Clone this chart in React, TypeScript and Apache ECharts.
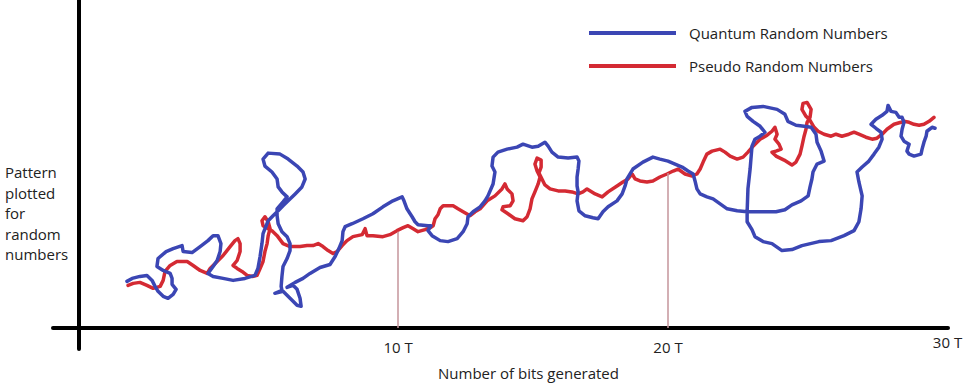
import React, { useEffect, useRef } from 'react';
import * as echarts from 'echarts';

const seriesNames = ['Quantum Random Numbers', 'Pseudo Random Numbers'];
const xTickValues = [10, 20, 30];
const xAxisTitle = 'Number of bits generated';
const yAxisTitleLines = ['Pattern', 'plotted', 'for', 'random', 'numbers'];

// [bits generated (T), pattern value]
const quantumRandom = [
  [-0.04, 4.7], [0.15, 5.0], [0.44, 5.2], [0.70, 5.3], [0.89, 4.8], [1.00, 4.2], [1.11, 3.7], [1.30, 3.2], [1.48, 3.0], [1.67, 3.4],
  [1.78, 3.9], [1.63, 4.4], [1.63, 5.0], [1.56, 5.5], [1.30, 5.8], [1.07, 6.2], [1.11, 7.0], [1.41, 7.7], [1.67, 8.0], [2.00, 8.3],
  [2.04, 7.7], [2.37, 7.6], [2.67, 8.2], [2.96, 8.8], [3.15, 9.3], [3.33, 9.3], [3.44, 8.5], [3.41, 7.7], [3.30, 6.8], [3.15, 6.2],
  [2.96, 5.5], [3.15, 5.2], [3.52, 5.0], [3.89, 4.8], [4.33, 5.0], [4.70, 5.3], [4.81, 6.0], [4.89, 7.2], [4.96, 8.5], [5.00, 9.5],
  [5.19, 10.8], [5.37, 11.3], [5.56, 11.8], [5.74, 12.3], [5.93, 12.8], [6.19, 13.5], [6.44, 14.2], [6.56, 15.0], [6.48, 15.7], [6.26, 16.3],
  [5.93, 17.0], [5.63, 17.5], [5.19, 17.6], [5.00, 17.0], [5.07, 16.3], [5.33, 15.7], [5.52, 15.0], [5.56, 14.2], [5.70, 13.7], [5.89, 13.2],
  [5.74, 12.7], [5.52, 12.0], [5.52, 11.3], [5.56, 10.5], [5.70, 9.7], [5.89, 9.2], [6.00, 8.5], [6.00, 7.8], [5.89, 7.0], [5.74, 6.2],
  [5.70, 5.2], [5.67, 4.2], [5.70, 3.8], [5.44, 3.5], [5.74, 3.7], [6.00, 3.0], [6.26, 2.3], [6.41, 2.2], [6.37, 3.0], [6.26, 3.9],
  [6.11, 4.3], [5.89, 4.1], [6.19, 4.6], [6.48, 5.0], [6.74, 5.5], [7.11, 6.1], [7.48, 6.4], [7.67, 7.2], [7.81, 8.0], [7.93, 8.8],
  [7.96, 9.7], [8.04, 10.2], [8.30, 10.5], [8.70, 11.0], [9.07, 11.5], [9.44, 12.2], [9.81, 12.8], [10.15, 13.2], [10.22, 12.8], [10.33, 12.0],
  [10.52, 11.2], [10.63, 10.7], [10.74, 10.4], [11.11, 10.3], [11.22, 10.3], [11.11, 9.8], [11.26, 9.3], [11.56, 8.8], [11.85, 8.7], [12.19, 9.0],
  [12.41, 9.7], [12.56, 10.5], [12.59, 11.2], [12.78, 11.7], [13.04, 12.2], [13.22, 12.8], [13.33, 13.3], [13.52, 14.5], [13.59, 15.7], [13.48, 16.3],
  [13.52, 17.2], [13.70, 17.7], [14.04, 18.0], [14.41, 18.2], [14.63, 18.5], [14.96, 18.2], [15.19, 18.3], [15.44, 18.7], [15.56, 18.3], [15.70, 17.7],
  [15.93, 17.2], [16.30, 17.1], [16.63, 17.2], [16.70, 16.8], [16.67, 16.0], [16.63, 15.2], [16.63, 14.3], [16.67, 13.7], [16.63, 12.8], [16.70, 11.8],
  [16.93, 11.3], [17.22, 11.1], [17.41, 11.0], [17.59, 11.7], [17.78, 12.2], [18.11, 12.8], [18.30, 13.5], [18.41, 14.3], [18.48, 15.0], [18.70, 16.0],
  [19.07, 16.7], [19.44, 17.2], [19.70, 17.0], [20.00, 16.8], [20.26, 16.5], [20.52, 16.2], [20.74, 15.8], [20.93, 15.5], [21.00, 14.8], [21.07, 14.0],
  [21.19, 13.5], [21.44, 13.2], [21.67, 13.0], [21.93, 12.5], [22.19, 12.0], [22.56, 11.8], [22.93, 11.7], [22.96, 14.0], [23.04, 16.0], [23.11, 18.3],
  [23.22, 19.0], [23.41, 19.3], [23.59, 19.7], [23.41, 20.3], [23.15, 20.8], [22.93, 21.3], [22.85, 21.8], [23.11, 22.2], [23.52, 22.3], [24.04, 22.0],
  [24.33, 21.5], [24.44, 20.8], [24.74, 20.4], [25.04, 20.3], [25.30, 20.2], [25.48, 19.5], [25.52, 18.7], [25.67, 17.8], [25.78, 16.8], [25.52, 16.5],
  [25.37, 15.7], [25.33, 15.0], [25.26, 14.2], [25.19, 13.3], [24.93, 12.8], [24.59, 12.4], [24.33, 11.9], [24.00, 11.7], [23.48, 11.7], [22.93, 11.7],
  [22.93, 10.7], [23.11, 9.9], [23.22, 9.2], [23.52, 8.7], [23.85, 8.5], [24.22, 7.8], [24.59, 7.9], [24.96, 8.3], [25.59, 8.7], [26.04, 8.8],
  [26.52, 9.3], [26.89, 9.8], [27.07, 10.7], [27.15, 12.0], [27.19, 13.3], [27.07, 14.7], [27.00, 15.7], [27.19, 16.2], [27.44, 16.8], [27.63, 17.5],
  [27.81, 18.2], [27.93, 19.0], [27.89, 19.7], [27.70, 20.1], [27.52, 20.5], [27.70, 21.0], [27.93, 21.4], [28.11, 21.8], [28.15, 22.4], [28.26, 21.8],
  [28.44, 21.7], [28.56, 21.2], [28.67, 21.2], [28.74, 20.7], [28.67, 20.0], [28.63, 19.3], [28.74, 18.8], [28.93, 18.5], [28.85, 17.8], [28.93, 17.5],
  [29.11, 17.3], [29.37, 17.5], [29.41, 18.0], [29.48, 18.7], [29.56, 19.3], [29.59, 19.8], [29.78, 20.2], [29.89, 20.1]
];

const pseudoRandom = [
  [0.00, 4.3], [0.19, 4.5], [0.44, 4.6], [0.70, 4.3], [0.93, 4.0], [1.19, 4.2], [1.30, 4.8], [1.37, 5.7], [1.56, 6.3], [1.81, 6.7],
  [2.19, 6.7], [2.41, 6.3], [2.67, 5.8], [2.93, 5.5], [3.04, 6.0], [3.30, 6.7], [3.52, 7.3], [3.78, 8.2], [3.96, 8.8], [4.07, 9.0],
  [4.15, 8.5], [4.15, 7.7], [4.04, 6.8], [3.89, 6.3], [4.04, 6.0], [4.22, 5.7], [4.41, 5.3], [4.63, 5.2], [4.78, 5.3], [4.89, 6.0],
  [5.00, 6.7], [5.07, 7.7], [5.15, 8.5], [5.19, 9.3], [5.26, 10.0], [5.19, 10.7], [5.07, 11.2], [4.96, 10.8], [5.00, 10.3], [5.19, 10.0],
  [5.33, 9.8], [5.52, 9.3], [5.74, 8.5], [6.00, 8.2], [6.37, 8.2], [6.63, 8.3], [6.85, 8.3], [7.04, 8.5], [7.22, 8.2], [7.41, 7.8],
  [7.59, 7.5], [7.74, 7.7], [7.93, 8.3], [8.11, 8.8], [8.33, 9.2], [8.67, 9.4], [8.78, 10.0], [8.85, 9.3], [9.07, 9.3], [9.44, 9.2],
  [9.70, 9.4], [9.96, 9.8], [10.19, 10.1], [10.37, 10.3], [10.56, 10.0], [10.74, 9.7], [11.00, 9.9], [11.19, 10.1], [11.30, 10.3], [11.37, 11.0],
  [11.48, 11.4], [11.56, 12.0], [11.67, 12.3], [11.85, 12.3], [12.04, 12.3], [12.22, 12.0], [12.41, 11.7], [12.67, 11.3], [12.85, 11.7], [13.04, 12.0],
  [13.30, 12.8], [13.59, 13.3], [13.85, 14.0], [13.96, 14.5], [14.04, 14.0], [14.22, 13.5], [14.26, 12.8], [14.15, 12.3], [13.89, 12.2], [13.85, 11.9],
  [14.07, 11.5], [14.33, 11.0], [14.63, 10.8], [14.78, 11.2], [14.89, 12.0], [14.96, 13.0], [15.07, 13.7], [15.19, 14.5], [15.26, 15.2], [15.15, 15.8],
  [15.07, 16.5], [15.15, 17.1], [15.30, 16.9], [15.30, 16.2], [15.22, 15.6], [15.33, 15.0], [15.44, 14.4], [15.63, 14.0], [15.93, 13.8], [16.19, 13.8],
  [16.44, 13.7], [16.67, 13.5], [16.85, 13.7], [17.00, 14.0], [17.30, 13.5], [17.56, 13.2], [17.78, 13.7], [18.11, 14.3], [18.33, 14.7], [18.52, 15.0],
  [18.67, 15.5], [18.78, 15.0], [18.96, 14.8], [19.22, 14.7], [19.44, 14.8], [19.70, 15.2], [19.96, 15.5], [20.19, 15.8], [20.37, 16.0], [20.63, 15.5],
  [20.89, 15.3], [21.07, 15.5], [21.19, 16.0], [21.30, 16.7], [21.44, 17.5], [21.63, 17.8], [21.93, 18.0], [22.11, 17.7], [22.30, 17.3], [22.56, 17.0],
  [22.78, 17.2], [22.96, 17.7], [23.15, 18.3], [23.41, 19.0], [23.67, 19.4], [23.85, 19.8], [23.96, 20.2], [24.04, 19.5], [23.96, 19.0], [24.11, 18.5],
  [24.19, 18.0], [24.00, 17.8], [23.85, 17.7], [24.00, 17.3], [24.30, 16.9], [24.59, 16.4], [24.74, 16.7], [24.89, 17.5], [24.96, 18.3], [25.04, 19.3],
  [25.11, 20.0], [25.15, 20.7], [25.26, 21.2], [25.30, 22.0], [25.15, 22.7], [25.00, 22.6], [24.96, 22.0], [25.11, 21.3], [25.26, 20.9], [25.41, 20.2],
  [25.56, 19.8], [25.78, 19.5], [26.04, 19.3], [26.22, 19.5], [26.44, 19.3], [26.70, 19.5], [26.89, 19.7], [27.07, 19.5], [27.33, 19.2], [27.56, 19.0],
  [27.74, 19.1], [27.93, 19.5], [28.11, 20.0], [28.37, 20.5], [28.63, 20.7], [28.74, 20.8], [28.93, 20.7], [29.11, 20.5], [29.30, 20.4], [29.48, 20.5],
  [29.67, 20.8], [29.85, 21.2]
];

// vertical guide lines: [x (T), pseudo curve value at x]
const guideLines = [
  [10, 9.7],
  [20, 15.6]
];

const BLUE = '#3b46b4';
const RED = '#d42a33';
const TEXT = '#222222';
const FONT = "'Open Sans', sans-serif";

export default function App() {
  const ref = useRef<HTMLDivElement>(null);

  useEffect(() => {
    if (!ref.current) return;
    const chart = echarts.init(ref.current, null, { renderer: 'svg' });
    chart.setOption({
      animation: false,
      backgroundColor: '#ffffff',
      textStyle: { fontFamily: FONT },
      grid: { left: 53, right: 21, top: 0, bottom: 34, containLabel: false },
      legend: {
        orient: 'vertical',
        left: 589,
        top: 23,
        padding: 0,
        icon: 'rect',
        itemWidth: 87,
        itemHeight: 4,
        itemGap: 13,
        data: seriesNames,
        selectedMode: false,
        textStyle: { fontSize: 15, color: TEXT, fontFamily: FONT, lineHeight: 20, padding: [0, 0, 0, 8] }
      },
      xAxis: {
        type: 'value',
        min: -2.78,
        max: 30.37,
        offset: -21,
        axisLine: { show: true, onZero: false, lineStyle: { color: '#000', width: 4 } },
        axisTick: { show: false },
        splitLine: { show: false },
        axisLabel: {
          customValues: xTickValues,
          margin: 4,
          formatter: (v: number) => (v === 30 ? `{end|${v} T}` : `{n|${v} T}`),
          rich: {
            n: { fontSize: 15, color: TEXT, fontFamily: FONT, padding: [7, 0, 0, 0] },
            end: { fontSize: 15, color: TEXT, fontFamily: FONT, padding: [2, 0, 0, 19] }
          }
        },
        name: xAxisTitle,
        nameLocation: 'middle',
        nameGap: 37,
        nameTextStyle: { fontSize: 15, color: TEXT, fontFamily: FONT, padding: [0, 0, 0, 56] }
      },
      yAxis: {
        type: 'value',
        min: -2.1,
        max: 33,
        offset: -26,
        axisLine: { show: true, onZero: false, lineStyle: { color: '#000', width: 4 } },
        axisTick: { show: false },
        axisLabel: { show: false },
        splitLine: { show: false }
      },
      graphic: [
        {
          type: 'text',
          left: 5,
          top: 162,
          style: {
            text: yAxisTitleLines.join('\n'),
            font: `15px ${FONT}`,
            lineHeight: 20.5,
            fill: TEXT
          }
        }
      ],
      series: [
        {
          name: seriesNames[1],
          type: 'line',
          data: pseudoRandom,
          showSymbol: false,
          symbol: 'none',
          z: 2,
          lineStyle: { color: RED, width: 3.5, cap: 'round', join: 'round' },
          itemStyle: { color: RED },
          emphasis: { disabled: true },
          markLine: {
            silent: true,
            symbol: ['none', 'none'],
            label: { show: false },
            lineStyle: { color: '#c4959b', width: 1.5, type: 'solid' },
            data: guideLines.map(([x, y]) => [{ coord: [x, 0] }, { coord: [x, y] }])
          }
        },
        {
          name: seriesNames[0],
          type: 'line',
          data: quantumRandom,
          showSymbol: false,
          symbol: 'none',
          z: 3,
          lineStyle: { color: BLUE, width: 3.5, cap: 'round', join: 'round' },
          itemStyle: { color: BLUE },
          emphasis: { disabled: true }
        }
      ]
    });
    return () => chart.dispose();
  }, []);

  return <div ref={ref} style={{ position: 'fixed', left: 0, top: 0, width: 969, height: 385 }} />;
}
